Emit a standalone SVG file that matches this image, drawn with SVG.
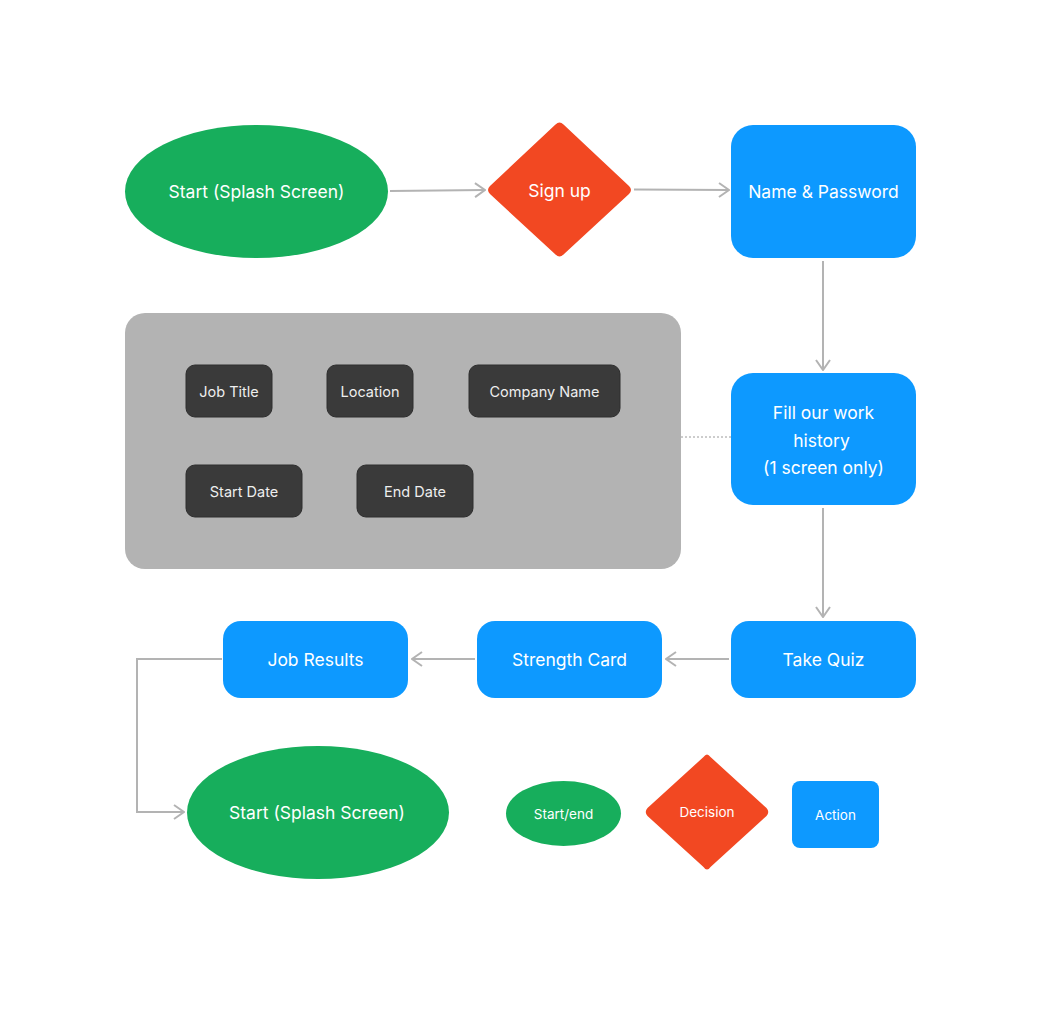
<svg xmlns="http://www.w3.org/2000/svg" width="1041" height="1018" viewBox="0 0 1041 1018">
<defs>
<style>
.green{fill:#17ae5c}
.red{fill:#f24822}
.blue{fill:#0d99ff}
.panel{fill:#b3b3b3}
.field{fill:#3a3a3a;stroke:#2e2e2e;stroke-width:1}
.t{font-family:Inter,"Noto Sans","Liberation Sans",sans-serif;fill:#ffffff;text-anchor:middle;dominant-baseline:central}
.big{font-size:17.5px}
.mid{font-size:14.5px;fill:#eeeeee}
.sm{font-size:13.5px}
.conn{fill:none;stroke:#b3b3b3;stroke-width:2}
.dot{fill:none;stroke:#9a9a9a;stroke-width:1;stroke-dasharray:2 2}
</style>
<marker id="arr" viewBox="0 0 12 16" refX="11" refY="8" markerWidth="12" markerHeight="16" markerUnits="userSpaceOnUse" orient="auto">
<path d="M1,1 L11,8 L1,15" fill="none" stroke="#b3b3b3" stroke-width="2"/>
</marker>
</defs>
<rect width="1041" height="1018" fill="#ffffff"/>
<g id="connectors">
<path class="conn" d="M390,191 L485,190" marker-end="url(#arr)"/>
<path class="conn" d="M634,189.5 L729,190" marker-end="url(#arr)"/>
<path class="conn" d="M823,261 L823,370" marker-end="url(#arr)"/>
<path class="conn" d="M823,508 L823,617" marker-end="url(#arr)"/>
<path class="conn" d="M729,659 L666,659" marker-end="url(#arr)"/>
<path class="conn" d="M475,659 L412,659" marker-end="url(#arr)"/>
<path class="conn" d="M222,659 L137,659 L137,812 L184,812" marker-end="url(#arr)"/>
<path class="dot" d="M681,437 L731,437"/>
</g>
<g id="start">
<ellipse class="green" cx="256.5" cy="191.5" rx="131.5" ry="66.5"/>
<text class="t big" x="256.5" y="191.5">Start (Splash Screen)</text>
</g>
<g id="signup">
<path class="red" d="M555.5,124.5 Q559.5,120.5 563.5,124.5 L629,186 Q633,190 629,194 L563.5,254.5 Q559.5,258.5 555.5,254.5 L490,194 Q486,190 490,186 Z"/>
<text class="t big" x="559.5" y="190">Sign up</text>
</g>
<g id="name-password">
<rect class="blue" x="731" y="125" width="185" height="133" rx="22"/>
<text class="t big" x="823.5" y="191.5">Name &amp; Password</text>
</g>
<g id="work-panel">
<rect class="panel" x="125" y="313" width="556" height="256" rx="20"/>
<g id="job-title">
<rect class="field" x="186" y="365" width="86" height="52" rx="9"/>
<text class="t mid" x="229" y="391">Job Title</text>
</g>
<g id="location">
<rect class="field" x="327" y="365" width="86" height="52" rx="9"/>
<text class="t mid" x="370" y="391">Location</text>
</g>
<g id="company-name">
<rect class="field" x="469" y="365" width="151" height="52" rx="9"/>
<text class="t mid" x="544.5" y="391">Company Name</text>
</g>
<g id="start-date">
<rect class="field" x="186" y="465" width="116" height="52" rx="9"/>
<text class="t mid" x="244" y="491">Start Date</text>
</g>
<g id="end-date">
<rect class="field" x="357" y="465" width="116" height="52" rx="9"/>
<text class="t mid" x="415" y="491">End Date</text>
</g>
</g>
<g id="work-history">
<rect class="blue" x="731" y="373" width="185" height="132" rx="22"/>
<text class="t big" x="823.5" y="412">Fill our work</text>
<text class="t big" x="821.5" y="440">history</text>
<text class="t big" x="823.5" y="467">(1 screen only)</text>
</g>
<g id="take-quiz">
<rect class="blue" x="731" y="621" width="185" height="77" rx="18"/>
<text class="t big" x="823.5" y="659.5">Take Quiz</text>
</g>
<g id="strength-card">
<rect class="blue" x="477" y="621" width="185" height="77" rx="18"/>
<text class="t big" x="569.5" y="659.5">Strength Card</text>
</g>
<g id="job-results">
<rect class="blue" x="223" y="621" width="185" height="77" rx="18"/>
<text class="t big" x="315.5" y="659.5">Job Results</text>
</g>
<g id="end">
<ellipse class="green" cx="318" cy="812.5" rx="131" ry="66.5"/>
<text class="t big" x="317" y="812.5">Start (Splash Screen)</text>
</g>
<g id="legend">
<g id="legend-startend">
<ellipse class="green" cx="563.5" cy="813.5" rx="57.5" ry="32.5"/>
<text class="t sm" x="563.5" y="814">Start/end</text>
</g>
<g id="legend-decision">
<path class="red" d="M703.5,757 Q707,752 710.5,757 L766.5,808 Q770,812 766.5,816 L710.5,867 Q707,872 703.5,867 L647.5,816 Q644,812 647.5,808 Z"/>
<text class="t sm" x="707" y="812">Decision</text>
</g>
<g id="legend-action">
<rect class="blue" x="792" y="781" width="87" height="67" rx="8"/>
<text class="t sm" x="835.5" y="815">Action</text>
</g>
</g>
</svg>
